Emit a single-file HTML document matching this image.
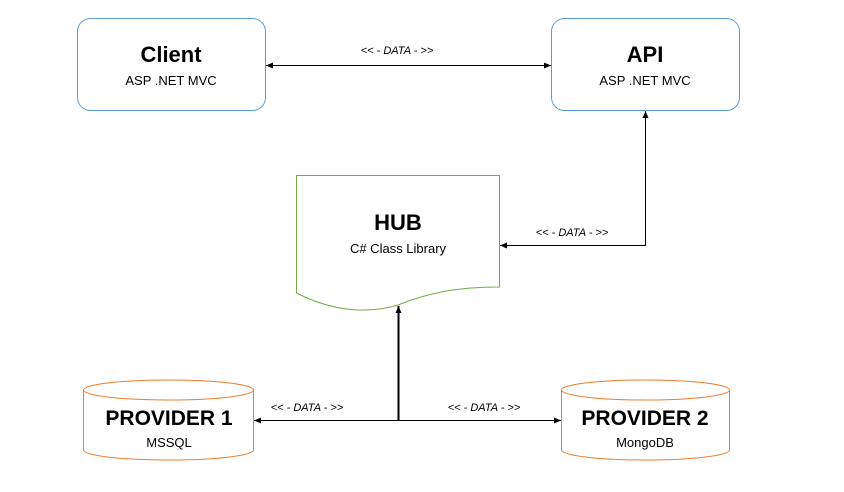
<!DOCTYPE html>
<html><head><style>body{margin:0;background:#fff}svg{display:block}</style></head><body>
<svg width="844" height="492" viewBox="0 0 844 492" xmlns="http://www.w3.org/2000/svg" font-family="'Liberation Sans', sans-serif">
<defs>
<marker id="a" markerWidth="8" markerHeight="8" refX="7" refY="4" orient="auto-start-reverse" markerUnits="userSpaceOnUse"><path d="M0,1 L7,4 L0,7 Z" fill="#000"/></marker>
</defs>
<rect x="77.5" y="18.5" width="188" height="92" rx="13" fill="#fff" stroke="#5b9bd5"/>
<rect x="551.5" y="18.5" width="188" height="92" rx="13" fill="#fff" stroke="#5b9bd5"/>
<text x="171" y="62" text-anchor="middle" font-size="22" font-weight="bold">Client</text>
<text x="171" y="85" text-anchor="middle" font-size="13">ASP .NET MVC</text>
<text x="645" y="62" text-anchor="middle" font-size="22" font-weight="bold">API</text>
<text x="645" y="85" text-anchor="middle" font-size="13">ASP .NET MVC</text>
<line x1="266" y1="65.5" x2="551" y2="65.5" stroke="#000" marker-start="url(#a)" marker-end="url(#a)"/>
<text x="397" y="54" text-anchor="middle" font-size="11" font-style="italic">&lt;&lt; - DATA - &gt;&gt;</text>
<path d="M296.5,175.5 H499.5 V287 C460,287 430,292 398,305 C365,315 330,310 296.5,293 Z" fill="#fff" stroke="#70ad47"/>
<text x="398" y="230" text-anchor="middle" font-size="22" font-weight="bold">HUB</text>
<text x="398" y="253" text-anchor="middle" font-size="13">C# Class Library</text>
<polyline points="645.5,111 645.5,245.5 500,245.5" fill="none" stroke="#000" marker-start="url(#a)" marker-end="url(#a)"/>
<text x="572" y="236" text-anchor="middle" font-size="11" font-style="italic">&lt;&lt; - DATA - &gt;&gt;</text>
<line x1="398.5" y1="420" x2="398.5" y2="306" stroke="#000" stroke-width="2" marker-end="url(#a)"/>
<line x1="254" y1="420.5" x2="561" y2="420.5" stroke="#000" marker-start="url(#a)" marker-end="url(#a)"/>
<text x="307" y="411" text-anchor="middle" font-size="11" font-style="italic">&lt;&lt; - DATA - &gt;&gt;</text>
<text x="484" y="411" text-anchor="middle" font-size="11" font-style="italic">&lt;&lt; - DATA - &gt;&gt;</text>
<g fill="#fff" stroke="#ed7d31">
<path d="M83.5,390 V450 A85,10 0 0 0 253.5,450 V390"/>
<ellipse cx="168.5" cy="390" rx="85" ry="10"/>
<path d="M561.5,390 V450 A84,10 0 0 0 729.5,450 V390"/>
<ellipse cx="645.5" cy="390" rx="84" ry="10"/>
</g>
<text x="169" y="425" text-anchor="middle" font-size="21" font-weight="bold">PROVIDER 1</text>
<text x="169" y="447" text-anchor="middle" font-size="13">MSSQL</text>
<text x="645" y="425" text-anchor="middle" font-size="21" font-weight="bold">PROVIDER 2</text>
<text x="645" y="447" text-anchor="middle" font-size="13">MongoDB</text>
</svg>
</body></html>
